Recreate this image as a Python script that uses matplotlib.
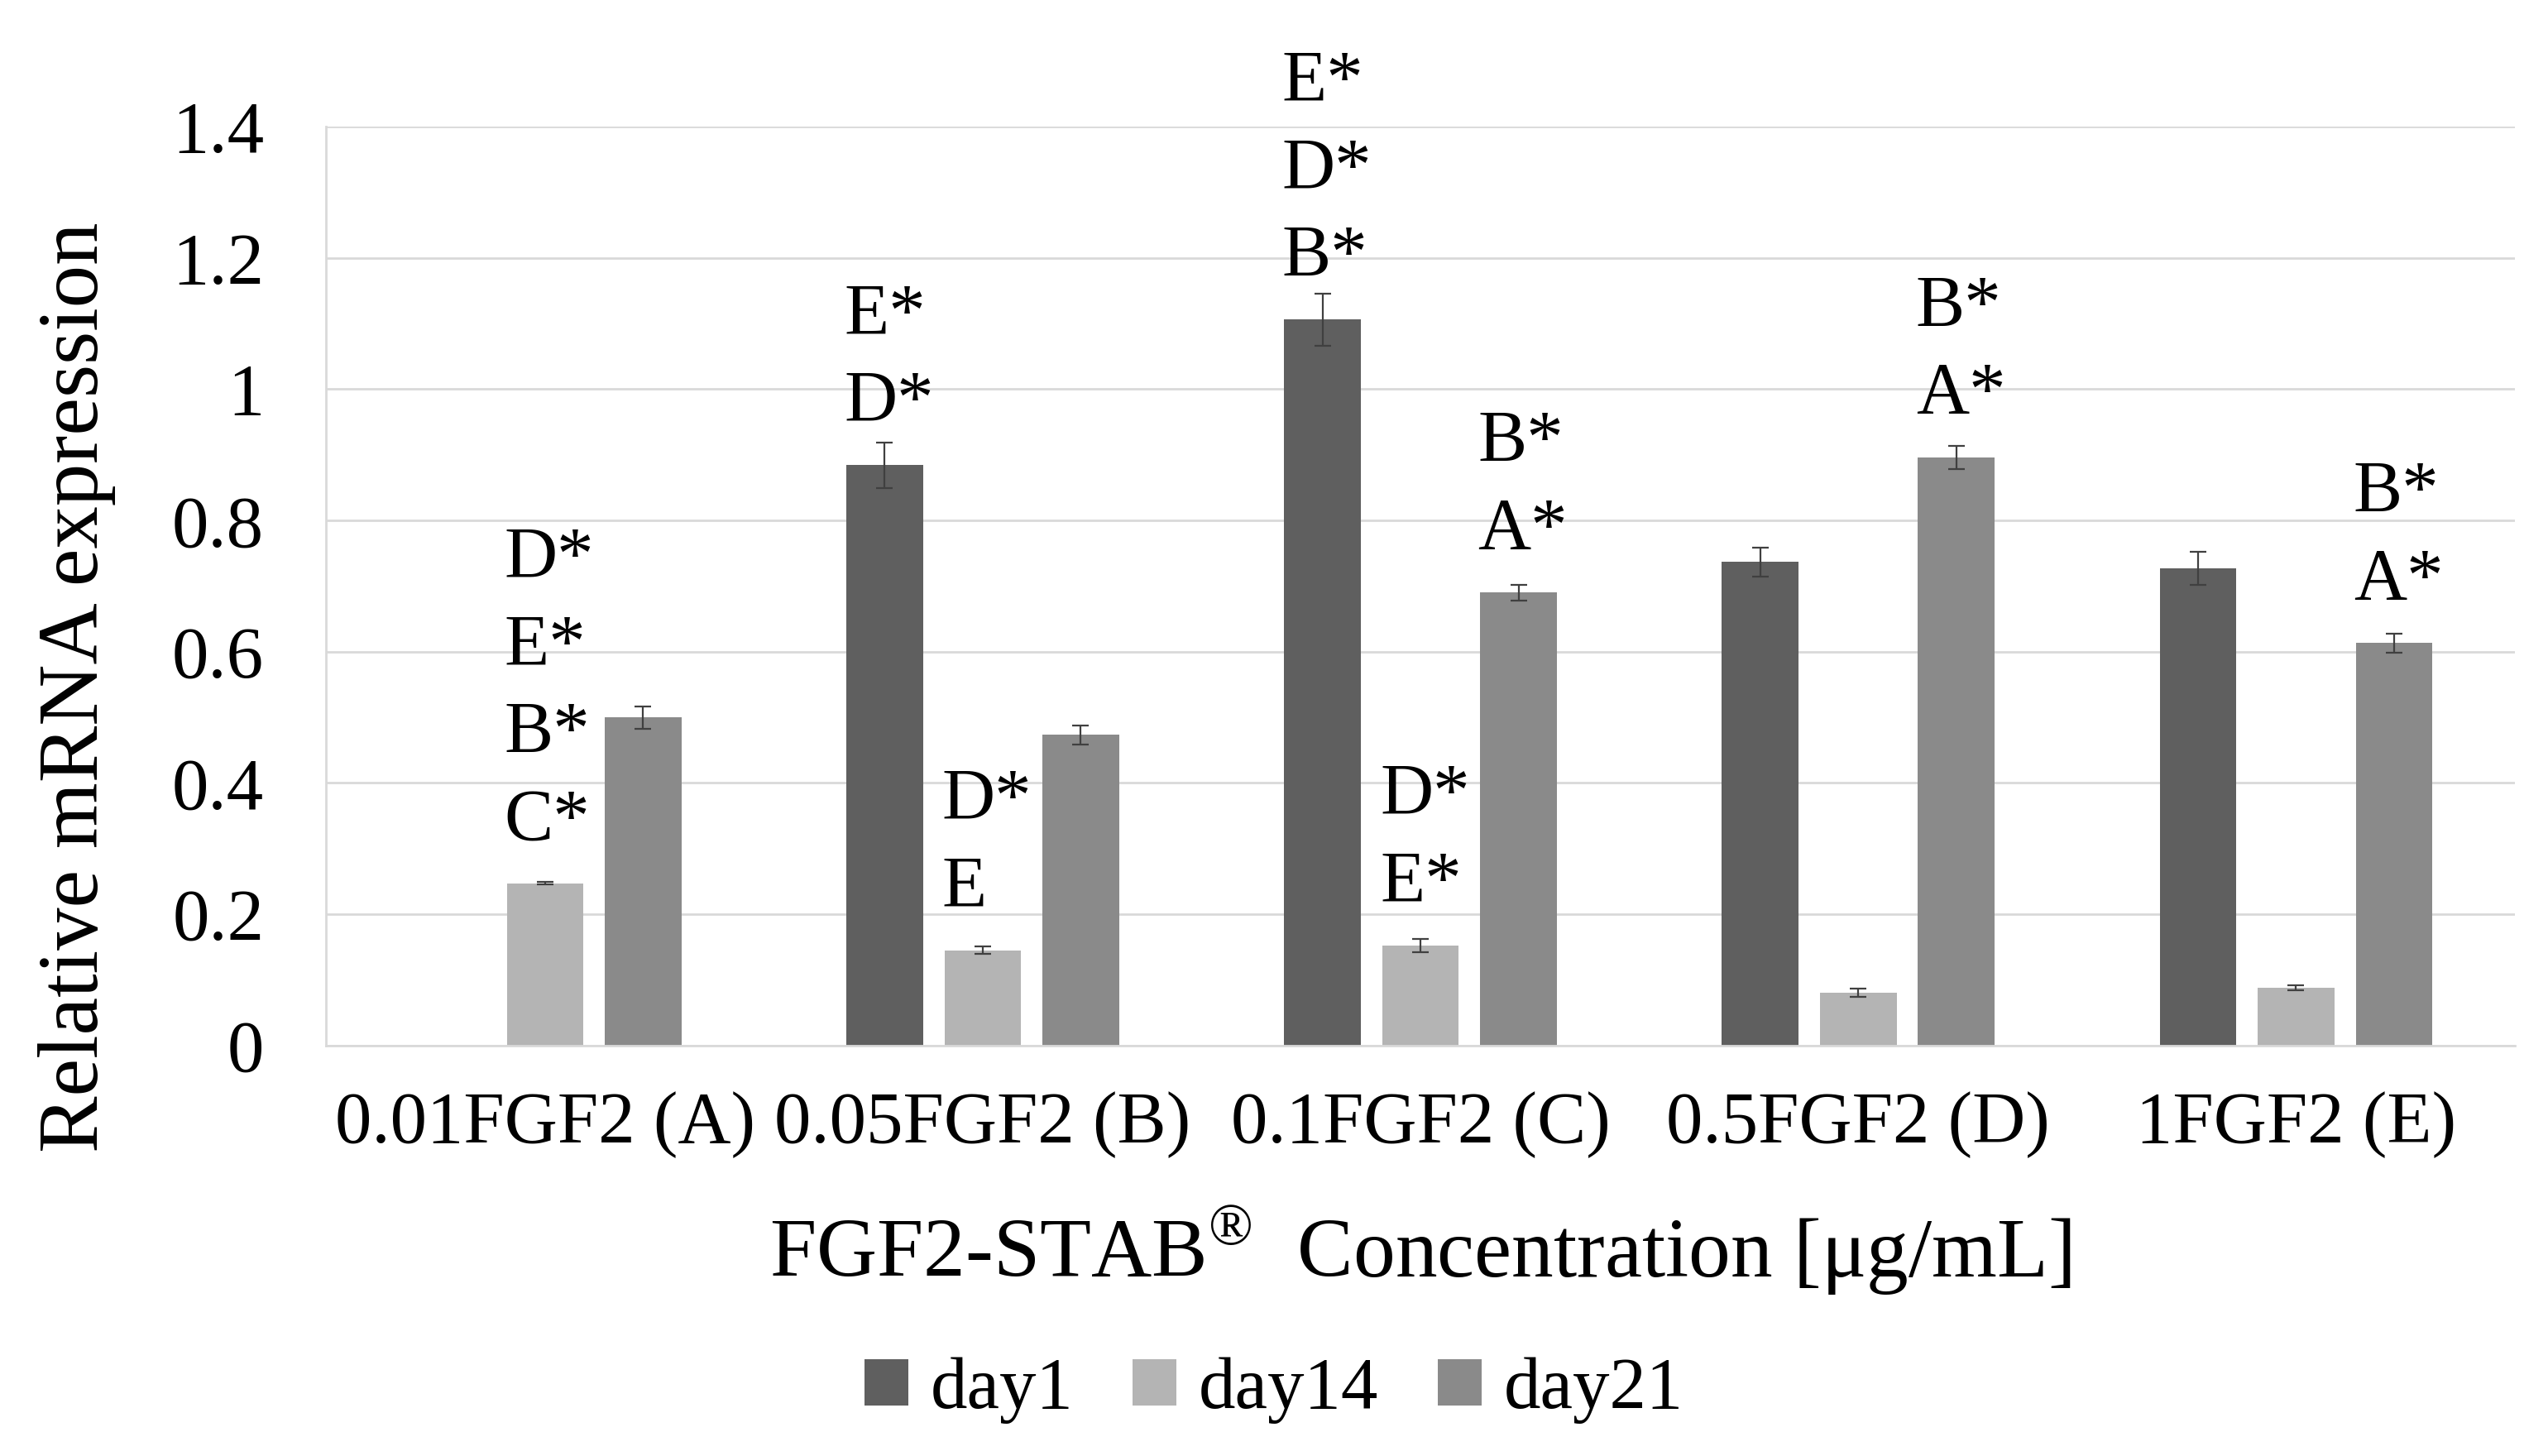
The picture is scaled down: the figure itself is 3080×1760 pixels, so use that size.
import matplotlib
matplotlib.use('Agg')
import matplotlib.pyplot as plt
import numpy as np

plt.rcParams['font.family'] = ['Liberation Serif', 'DejaVu Serif']
plt.rcParams['mathtext.fontset'] = 'custom'
plt.rcParams['mathtext.rm'] = 'Liberation Serif'

categories = ['0.01FGF2 (A)', '0.05FGF2 (B)', '0.1FGF2 (C)', '0.5FGF2 (D)', '1FGF2 (E)']
series_names = ['day1', 'day14', 'day21']
colors = ['#5f5f5f', '#b4b4b4', '#8a8a8a']

# nan = no bar for day1 at 0.01 FGF2
day1 = [np.nan, 0.884, 1.106, 0.737, 0.727]
day14 = [0.247, 0.145, 0.152, 0.080, 0.088]
day21 = [0.500, 0.473, 0.690, 0.896, 0.613]

day1_err = [0.0, 0.035, 0.040, 0.022, 0.025]
day14_err = [0.002, 0.006, 0.010, 0.006, 0.004]
day21_err = [0.017, 0.015, 0.012, 0.018, 0.015]

# significance letters, top to bottom, keyed by (category index, series index)
sig_labels = {
    (0, 1): ['D*', 'E*', 'B*', 'C*'],
    (1, 0): ['E*', 'D*'],
    (1, 1): ['D*', 'E'],
    (2, 0): ['E*', 'D*', 'B*'],
    (2, 1): ['D*', 'E*'],
    (2, 2): ['B*', 'A*'],
    (3, 2): ['B*', 'A*'],
    (4, 2): ['B*', 'A*'],
}

values = [day1, day14, day21]
errors = [day1_err, day14_err, day21_err]

fig = plt.figure(figsize=(15.4, 8.8), dpi=200)
ax = fig.add_axes([0.128, 0.282, 0.859, 0.631])

x = np.arange(len(categories))
width = 0.175
step = 0.224

for i, (vals, errs) in enumerate(zip(values, errors)):
    pos = x + (i - 1) * step
    ax.bar(pos, vals, width, color=colors[i], label=series_names[i], zorder=2)
    ax.errorbar(pos, vals, yerr=errs, fmt='none', ecolor='#404040',
                elinewidth=0.8, capsize=3.5, capthick=0.8, zorder=3)

for (ci, si), labs in sig_labels.items():
    xl = x[ci] + (si - 1) * step - width / 2
    top = values[si][ci]
    for k, lab in enumerate(reversed(labs)):
        ax.annotate(lab, (xl, top), xytext=(-1, 27 + k * 38),
                    textcoords='offset points', ha='left', va='center',
                    fontsize=32, annotation_clip=False)

ax.set_xlim(-0.5, len(categories) - 0.5)
ax.set_ylim(0, 1.4)
ax.set_yticks(np.arange(0, 1.41, 0.2))
ax.set_yticklabels(['0', '0.2', '0.4', '0.6', '0.8', '1', '1.2', '1.4'])
ax.set_xticks(x)
ax.set_xticklabels(categories)
ax.tick_params(axis='both', length=0, labelsize=32)
ax.tick_params(axis='y', pad=27)
ax.tick_params(axis='x', pad=20)

ax.grid(axis='y', color='#d9d9d9', linewidth=1.0, zorder=0)
ax.set_axisbelow(True)
for s in ['top', 'right']:
    ax.spines[s].set_visible(False)
ax.spines['left'].set_color('#d9d9d9')
ax.spines['bottom'].set_color('#d9d9d9')
ax.spines['left'].set_linewidth(1.0)
ax.spines['bottom'].set_linewidth(1.0)

ax.set_ylabel('Relative mRNA expression', fontsize=37)
ax.yaxis.set_label_coords(-0.096, 0.39)
ax.set_xlabel('FGF2-STAB$^{\u00ae}$  Concentration [\u03bcg/mL]', fontsize=36.5, labelpad=20)

fig.legend(loc='center', bbox_to_anchor=(0.5, 0.045), ncol=3, frameon=False,
           fontsize=32, handlelength=0.6, handleheight=0.6, handletextpad=0.3,
           columnspacing=0.8)

fig.savefig('out.png', dpi=200)
